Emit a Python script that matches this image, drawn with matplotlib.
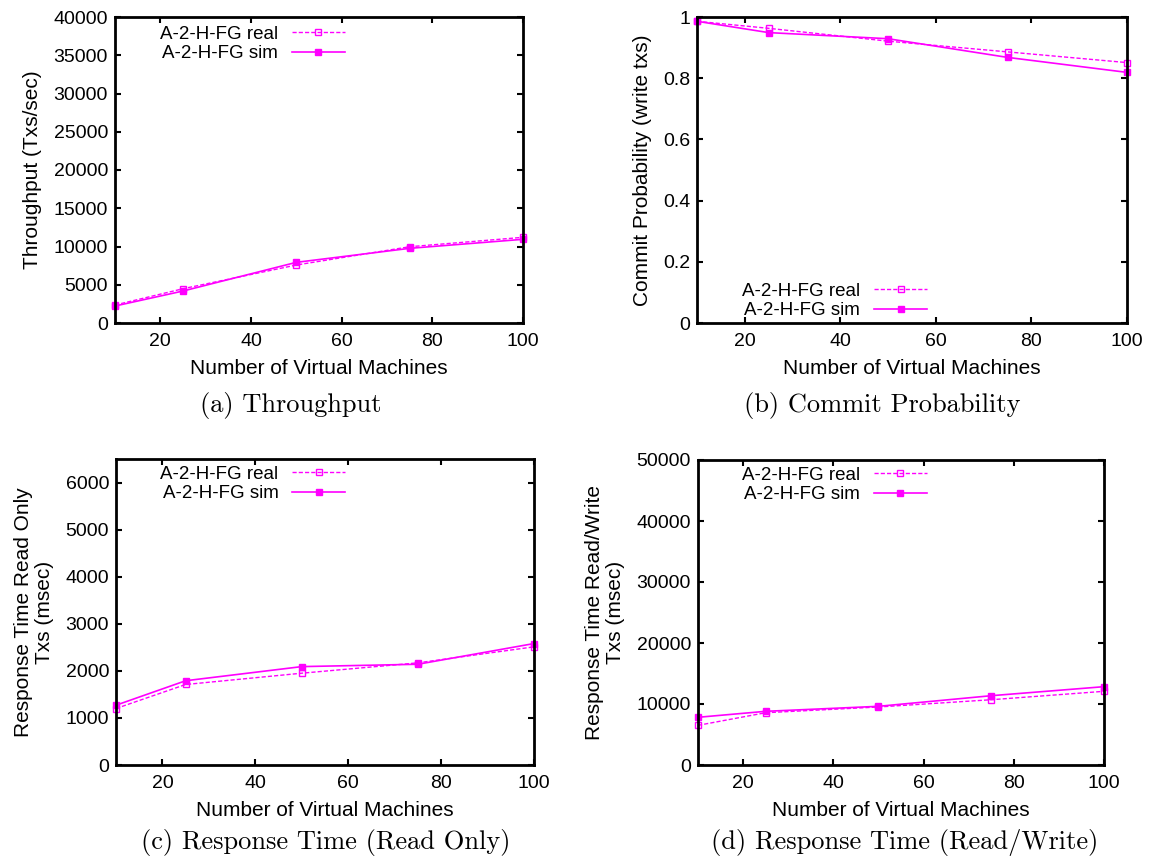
import matplotlib
matplotlib.use("Agg")
import matplotlib.pyplot as plt

plt.rcParams["font.family"] = ["Liberation Sans", "DejaVu Sans"]

vms = [10, 25, 50, 75, 100]

tput_real = [2350, 4480, 7580, 9970, 11200]
tput_sim = [2220, 4180, 7930, 9760, 10940]

commit_real = [0.986, 0.963, 0.921, 0.886, 0.851]
commit_sim = [0.986, 0.949, 0.929, 0.868, 0.819]

rt_ro_real = [1200, 1710, 1950, 2170, 2510]
rt_ro_sim = [1270, 1790, 2090, 2140, 2580]

rt_rw_real = [6500, 8570, 9510, 10700, 12080]
rt_rw_sim = [7820, 8800, 9620, 11360, 12840]

label_real = "A-2-H-FG real"
label_sim = "A-2-H-FG sim"
xlabel = "Number of Virtual Machines"
x_ticks = [20, 40, 60, 80, 100]

COLOR = "#ff00ff"
W, H = 1150, 858


def px_rect(left, top, right, bottom):
    """Axes rectangle from pixel edges (origin at top-left)."""
    return [left / W, 1 - bottom / H, (right - left) / W, (bottom - top) / H]


fig = plt.figure(figsize=(W / 100, H / 100), dpi=100)

panels = [
    dict(rect=px_rect(115, 17, 523, 323), real=tput_real, sim=tput_sim,
         ylim=(0, 40000), yticks=list(range(0, 40001, 5000)),
         ylabel="Throughput (Txs/sec)", legend_loc="upper left",
         legend_anchor=(0.11, 0.972), caption="(a) Throughput", cap_xy=(291, 405),
         yfmt=lambda v: f"{int(v)}"),
    dict(rect=px_rect(697, 17, 1127, 323), real=commit_real, sim=commit_sim,
         ylim=(0, 1), yticks=[0, 0.2, 0.4, 0.6, 0.8, 1.0],
         ylabel="Commit Probability (write txs)", legend_loc="lower left",
         legend_anchor=(0.105, 0.012), caption="(b) Commit Probability",
         cap_xy=(882, 405),
         yfmt=lambda v: "0" if v == 0 else ("1" if v == 1 else f"{v:.1f}")),
    dict(rect=px_rect(116, 459, 534, 765), real=rt_ro_real, sim=rt_ro_sim,
         ylim=(0, 6500), yticks=list(range(0, 6001, 1000)),
         ylabel="Response Time Read Only\nTxs (msec)", legend_loc="upper left",
         legend_anchor=(0.106, 0.978), caption="(c) Response Time (Read Only)",
         cap_xy=(326, 842),
         yfmt=lambda v: f"{int(v)}"),
    dict(rect=px_rect(698, 460, 1104, 765), real=rt_rw_real, sim=rt_rw_sim,
         ylim=(0, 50000), yticks=list(range(0, 50001, 10000)),
         ylabel="Response Time Read/Write\nTxs (msec)", legend_loc="upper left",
         legend_anchor=(0.108, 0.978), caption="(d) Response Time (Read/Write)",
         cap_xy=(905, 842),
         yfmt=lambda v: f"{int(v)}"),
]

for p in panels:
    ax = fig.add_axes(p["rect"])
    ax.plot(vms, p["real"], color=COLOR, lw=1.0, ls=(0, (3, 1.5)), marker="s",
            ms=4.5, mfc="none", mec=COLOR, mew=1.0, label=label_real, clip_on=False)
    ax.plot(vms, p["sim"], color=COLOR, lw=1.2, ls="-", marker="s",
            ms=4.5, mfc=COLOR, mec=COLOR, label=label_sim, clip_on=False)
    ax.set_xlim(10, 100)
    ax.set_ylim(*p["ylim"])
    ax.set_xticks(x_ticks)
    ax.set_xticklabels([str(t) for t in x_ticks])
    ax.set_yticks(p["yticks"])
    ax.set_yticklabels([p["yfmt"](v) for v in p["yticks"]])
    ax.tick_params(direction="in", length=4.5, width=1.5, top=True, right=True,
                   labelsize=14, pad=5)
    ax.tick_params(axis="x", pad=7)
    for s in ax.spines.values():
        s.set_linewidth(2.0)
    ax.set_xlabel(xlabel, fontsize=15, labelpad=7)
    ax.set_ylabel(p["ylabel"], fontsize=15, labelpad=8, linespacing=1.15)
    ax.legend(loc=p["legend_loc"], bbox_to_anchor=p["legend_anchor"],
              markerfirst=False, frameon=False, fontsize=13.5,
              handlelength=2.8, handletextpad=0.75, labelspacing=0.12,
              borderpad=0, borderaxespad=0)
    cx, cy = p["cap_xy"]
    fig.text(cx / W, 1 - cy / H, p["caption"], family="cmr10",
             ha="center", va="center", fontsize=19)

fig.savefig("out.png", dpi=100)
